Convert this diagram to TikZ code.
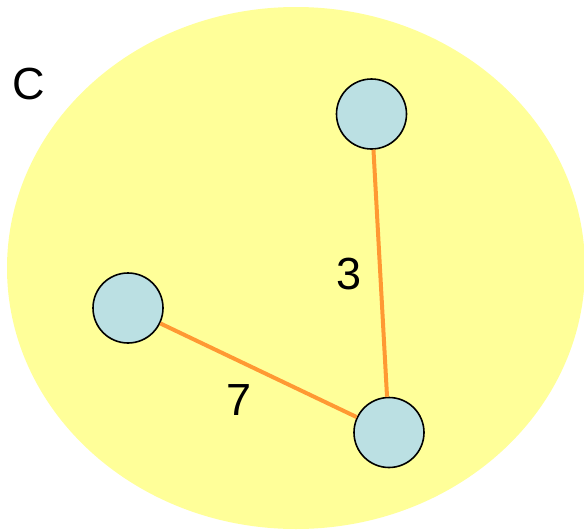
\documentclass[tikz,border=0pt]{standalone}
\usepackage{fontspec}
\setmainfont{Liberation Sans}
\definecolor{setyellow}{HTML}{FFFF99}
\definecolor{nodeblue}{HTML}{BBE0E3}
\definecolor{edgeorange}{HTML}{FF9933}
\begin{document}
\begin{tikzpicture}[x=1pt,y=-1pt,
  vertex/.style={circle,draw=black,line width=1.6pt,fill=nodeblue,minimum size=70pt,inner sep=0pt},
  edge/.style={draw=edgeorange,line width=4pt},
  lbl/.style={font=\fontsize{45}{54}\selectfont,inner sep=0pt,text=black}]
\useasboundingbox (0,0) rectangle (584,530);
\fill[setyellow] (296,268) ellipse [x radius=289pt, y radius=261pt];
\node[lbl] (c) at (28.5,84) {C};
\node[vertex] (a) at (371.5,114) {};
\node[vertex] (b) at (128,308) {};
\node[vertex] (d) at (389,432.5) {};
\draw[edge] (a) -- (d);
\draw[edge] (b) -- (d);
\node[lbl] (w3) at (349.5,274.5) {3};
\node[lbl] (w7) at (239,400.5) {7};
\end{tikzpicture}
\end{document}
